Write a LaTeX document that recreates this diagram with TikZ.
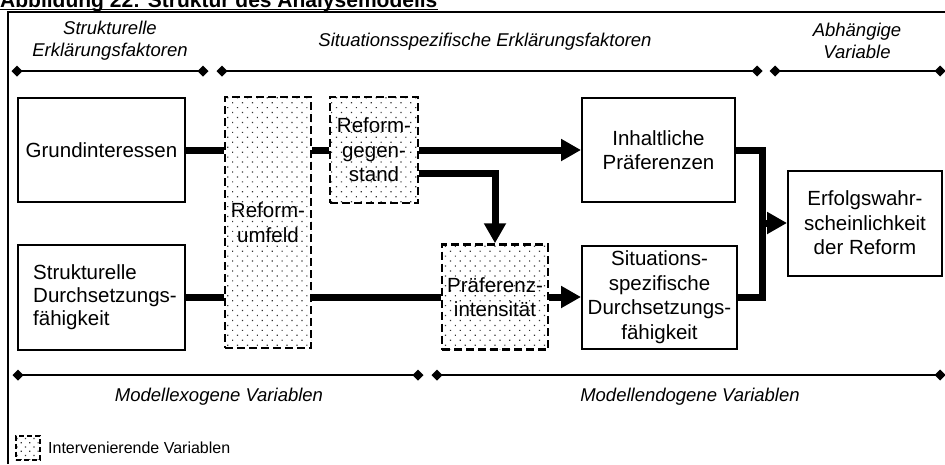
\documentclass[tikz,border=0pt]{standalone}
\usepackage{fontspec}
\setmainfont{Liberation Sans}
\usetikzlibrary{arrows.meta,patterns.meta}

\begin{document}
\begin{tikzpicture}[x=1pt,y=-1pt,
  boxtext/.style={font=\fontsize{20.5}{24.5}\selectfont},
  box/.style={draw, line width=2pt, inner sep=0pt, align=center, boxtext},
  ivbox/.style={box, line width=2.5pt, dash pattern=on 8pt off 4pt, pattern={Dots[distance=7pt,radius=0.85pt,angle=45]}, pattern color=black!80},
  conn/.style={line width=7pt},
  arr/.style={conn, -{Triangle[length=20pt,width=21pt]}},
  bracket/.style={line width=2pt, {Turned Square[length=11pt,width=11pt]}-{Turned Square[length=11pt,width=11pt]}},
  hdr/.style={font=\fontsize{18.5}{22}\selectfont\itshape, align=center, inner sep=0pt}
]
\useasboundingbox (0,0) rectangle (945,464);

% title
\node[anchor=base west, inner sep=0pt, font=\fontsize{21}{25}\selectfont\bfseries] (title) at (0,7.5) {Abbildung 22: Struktur des Analysemodells};
\draw[line width=1.5pt] ([yshift=-2pt]title.base west) -- ([yshift=-2pt]title.base east);

% frame
\coordinate (fbl) at (8,464);
\coordinate (ftl) at (8,12);
\coordinate (ftr) at (945,12);
\draw[line width=1.5pt] (fbl) -- (ftl) -- (ftr);

% headers
\node[hdr] (h1) at (110,41) {Strukturelle\\Erklärungsfaktoren};
\node[hdr] (h2) at (485,42) {Situationsspezifische Erklärungsfaktoren};
\node[hdr] (h3) at (857,41) {Abhängige\\Variable};

% brackets
\coordinate (t1a) at (11.5,71); \coordinate (t1b) at (208.5,71);
\coordinate (t2a) at (216.5,71); \coordinate (t2b) at (762.5,71);
\coordinate (t3a) at (769.5,71); \coordinate (t3b) at (945.5,71);
\draw[bracket] (t1a) -- (t1b);
\draw[bracket] (t2a) -- (t2b);
\draw[bracket] (t3a) -- (t3b);
\coordinate (b1a) at (12.5,375); \coordinate (b1b) at (423.5,375);
\coordinate (b2a) at (431.5,375); \coordinate (b2b) at (945.5,375);
\draw[bracket] (b1a) -- (b1b);
\draw[bracket] (b2a) -- (b2b);

\node[hdr] (f1) at (219,397) {Modellexogene Variablen};
\node[hdr] (f2) at (690,397) {Modellendogene Variablen};

% boxes
\node[box, minimum width=167pt, minimum height=104pt] (gi) at (101.5,150) {Grundinteressen};
\node[box, minimum width=167pt, minimum height=105pt] (sd) at (101.5,297) {};
\node[anchor=west, align=left, inner sep=0pt, font=\fontsize{20.5}{23}\selectfont] (sdt) at (33,297) {Strukturelle\\Durchsetzungs-\\fähigkeit};
\node[ivbox, minimum width=86pt, minimum height=251pt] (ru) at (268,222.5) {Reform-\\umfeld};
\node[ivbox, minimum width=88pt, minimum height=106pt] (rg) at (374,150) {Reform-\\gegen-\\stand};
\node[box, minimum width=153pt, minimum height=104pt] (ip) at (658.5,150) {Inhaltliche\\Präferenzen};
\node[ivbox, minimum width=106pt, minimum height=105pt] (pi) at (495,297) {Präferenz-\\intensität};
\node[box, minimum width=155pt, minimum height=103pt] (sp) at (659.5,297) {Situations-\\spezifische\\Durchsetzungs-\\fähigkeit};
\node[box, minimum width=154pt, minimum height=105pt] (ew) at (865,223) {Erfolgswahr-\\scheinlichkeit\\der Reform};

% connectors
\draw[conn] (gi.east) -- (gi.east -| ru.west);
\draw[conn] (gi.east -| ru.east) -- (rg.west);
\draw[arr] (rg.east) -- (ip.west);
\draw[arr] ([yshift=-23pt]rg.east) -| (pi.north);
\draw[conn] (sd.east) -- (sd.east -| ru.west);
\draw[conn] (sd.east -| ru.east) -- (pi.west);
\draw[arr] (pi.east) -- (sp.west);
\coordinate (bar) at (762,223);
\draw[conn] (ip.east) -| (bar) |- (sp.east);
\draw[arr] (bar) -- (ew.west);

% legend
\node[draw, line width=2pt, dash pattern=on 5pt off 3pt, pattern={Dots[distance=6pt,radius=0.8pt,angle=45]}, pattern color=black!80, minimum width=24pt, minimum height=24pt, inner sep=0pt] (lg) at (27.5,447.5) {};
\node[anchor=west, inner sep=0pt, font=\fontsize{16}{19}\selectfont] (lgt) at (48,448) {Intervenierende Variablen};
\end{tikzpicture}
\end{document}
